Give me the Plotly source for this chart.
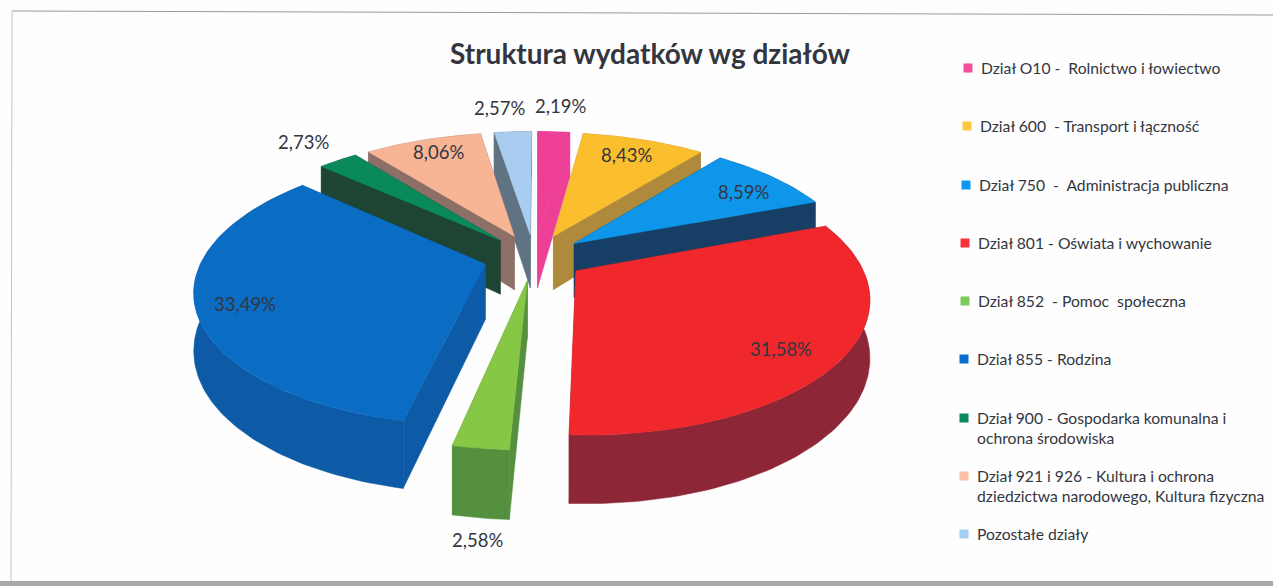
import math
import plotly.graph_objects as go

categories = ["Dział O10 -  Rolnictwo i łowiectwo", "Dział 600  - Transport i łączność",
              "Dział 750  -  Administracja publiczna", "Dział 801 - Oświata i wychowanie",
              "Dział 852  - Pomoc  społeczna", "Dział 855 - Rodzina",
              "Dział 900 - Gospodarka komunalna i<br>ochrona środowiska",
              "Dział 921 i 926 - Kultura i ochrona<br>dziedzictwa narodowego, Kultura fizyczna",
              "Pozostałe działy"]
values = [2.19, 8.43, 8.59, 31.58, 2.58, 33.49, 2.73, 8.06, 2.57]
labels = ["2,19%", "8,43%", "8,59%", "31,58%", "2,58%", "33,49%", "2,73%", "8,06%", "2,57%"]
top_colors = ["#ee3f96", "#fbbf2d", "#0d96ea", "#f0282c", "#86c846", "#0b6cc4", "#0a8a5a", "#f7b596", "#a9cdf0"]
wall_colors = ["#ee3f96", "#b08a3c", "#173f66", "#8d2636", "#55903f", "#0d5ba6", "#1e4534", "#8c6f66", "#5f7383"]
legend_colors = ["#f24f9b", "#fcc83f", "#0f96ee", "#f7343a", "#7ccb5c", "#0b6ccf", "#0a8a60", "#f9c0a4", "#a5d0f5"]

CX, CY, R, H, P, E, D, ROT = 534, 257, 282, 129, 0.18, 0.18, 55, math.radians(0.2)
label_pos = [(560, 106), (626, 155), (743, 192), (781, 349), (477, 540), (245, 304), (303, 142), (438, 152), (499, 108)]
legend_x = [968, 967, 966, 965, 965, 964, 964, 964, 964]
legend_y = [68, 126, 185, 243, 301, 359, 418, 476, 534]
legend_text_y = [68, 126, 185, 243, 301, 359, 428, 486, 534]


def proj(u, v, drop=0.0):
    s = 1 / (1 + P * v)
    return CX + R * u * s, CY - H * v * s + drop * s * D


fig = go.Figure()


def poly(points, color):
    fig.add_trace(go.Scatter(x=[p[0] for p in points] + [points[0][0]],
                             y=[p[1] for p in points] + [points[0][1]],
                             mode="lines", fill="toself", fillcolor=color,
                             line=dict(color=color, width=0.5),
                             hoverinfo="skip", showlegend=False))


total = sum(values)
slices = []
start = ROT
for i, val in enumerate(values):
    a0 = start
    a1 = start + val / total * 2 * math.pi
    start = a1
    mid = (a0 + a1) / 2
    ou, ov = E * math.sin(mid), E * math.cos(mid)
    n = max(4, int(val * 3))
    arc = [(ou + math.sin(a0 + (a1 - a0) * k / n), ov + math.cos(a0 + (a1 - a0) * k / n)) for k in range(n + 1)]
    slices.append((ov + 0.5 * math.cos(mid), i, (ou, ov), arc))

for _, i, apex, arc in sorted(slices, key=lambda t: -t[0]):
    rim_top = [proj(*p) for p in arc]
    rim_bot = [proj(*p, 1) for p in arc]
    a_top, a_bot = proj(*apex), proj(*apex, 1)
    walls = [[a_top, rim_top[0], rim_bot[0], a_bot],
             [a_top, rim_top[-1], rim_bot[-1], a_bot],
             rim_top + rim_bot[::-1]]
    for w in sorted(walls, key=lambda w: sum(p[1] for p in w) / len(w)):
        poly(w, wall_colors[i])
    poly([a_top] + rim_top, top_colors[i])

fig.add_trace(go.Scatter(x=legend_x, y=legend_y, mode="markers",
                         marker=dict(symbol="square", size=9, color=legend_colors),
                         hoverinfo="skip", showlegend=False))

anns = [dict(x=x, y=y, text=t, showarrow=False, xanchor="center", yanchor="middle",
             font=dict(family="Lato", size=18.5, color="#33363f"))
        for (x, y), t in zip(label_pos, labels)]
anns += [dict(x=x + 11, y=y, text=t, showarrow=False, xanchor="left", yanchor="middle", align="left",
              font=dict(family="Lato", size=15.7, color="#33363f"))
         for x, y, t in zip(legend_x, legend_text_y, categories)]
anns.append(dict(x=650, y=53, text="<b>Struktura wydatków wg działów</b>", showarrow=False,
                 font=dict(family="Lato", size=28, color="#33363f")))

shapes = [dict(type="line", x0=12, y0=11, x1=1273, y1=15, line=dict(color="#9a9a9a", width=1)),
          dict(type="line", x0=12, y0=11, x1=11, y1=581, line=dict(color="#c4c4c4", width=1)),
          dict(type="rect", x0=0, y0=581, x1=1273, y1=586, fillcolor="#a8a8a8", line=dict(width=0))]

fig.update_layout(width=1273, height=586, margin=dict(l=0, r=0, t=0, b=0),
                  paper_bgcolor="#fefefe", plot_bgcolor="#fefefe",
                  xaxis=dict(range=[0, 1273], visible=False, fixedrange=True),
                  yaxis=dict(range=[586, 0], visible=False, fixedrange=True),
                  annotations=anns, shapes=shapes)
fig.write_html("out.html", config={"displayModeBar": False},
               post_script="document.body.style.margin='0';document.body.style.overflow='hidden';")
